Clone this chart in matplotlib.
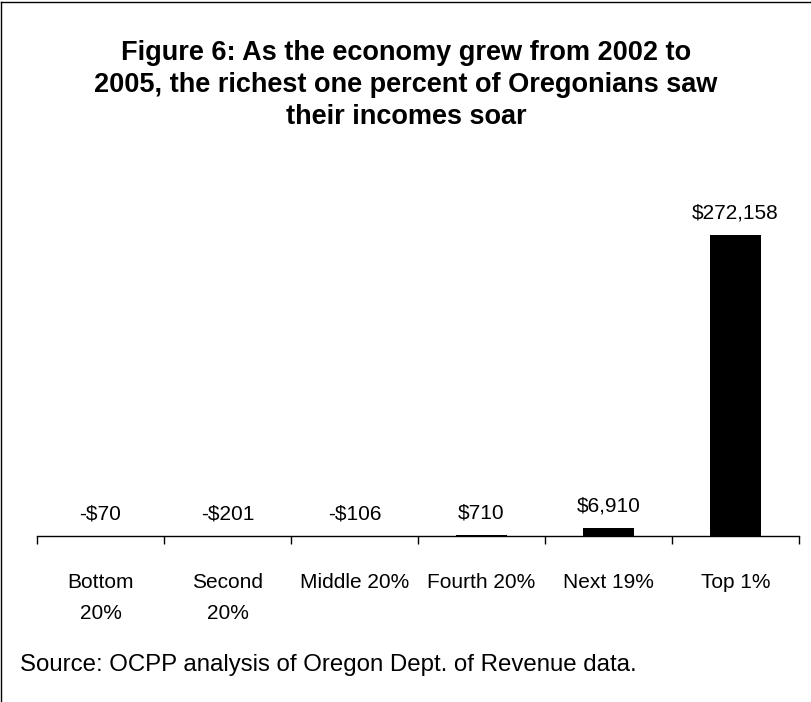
import matplotlib.pyplot as plt
from matplotlib.lines import Line2D

plt.rcParams['font.family'] = ['Liberation Sans', 'DejaVu Sans']

categories = ['Bottom\n20%', 'Second\n20%', 'Middle 20%', 'Fourth 20%', 'Next 19%', 'Top 1%']
changes = [-70, -201, -106, 710, 6910, 272158]
value_labels = ['-$70', '-$201', '-$106', '$710', '$6,910', '$272,158']

fig = plt.figure(figsize=(8.12, 7.02), dpi=100)
ax = fig.add_axes([0.0456, 0.2365, 0.9384, 0.4725])

x = range(len(categories))
ax.bar(x, changes, width=0.4, color='black')
ax.set_xlim(-0.5, 5.5)
ax.set_ylim(0, 300000)

for i, (v, lab) in enumerate(zip(changes, value_labels)):
    ax.annotate(lab, xy=(i, max(v, 0)), xytext=(0, 9), textcoords='offset points',
                ha='center', va='bottom', fontsize=15)

for s in ['left', 'right', 'top']:
    ax.spines[s].set_visible(False)
ax.spines['bottom'].set_linewidth(1)
ax.set_yticks([])
ax.set_xticks(list(x))
ax.set_xticklabels(categories, fontsize=15, linespacing=1.77)
ax.tick_params(axis='x', which='major', length=0, pad=27)
ax.set_xticks([i - 0.5 for i in range(len(categories) + 1)], minor=True)
ax.tick_params(axis='x', which='minor', length=6, width=1, direction='out')

fig.text(0.5, 0.943, 'Figure 6: As the economy grew from 2002 to\n2005, the richest one percent of Oregonians saw\ntheir incomes soar',
         ha='center', va='top', fontsize=19.5, fontweight='bold', linespacing=1.3)
fig.text(0.025, 0.053, 'Source: OCPP analysis of Oregon Dept. of Revenue data.',
         ha='left', va='center', fontsize=17.3)

# frame edges (left and top only, picture is cropped)
fig.add_artist(Line2D([0.0015, 0.0015], [0, 0.997], transform=fig.transFigure, color='black', lw=1))
fig.add_artist(Line2D([0.0015, 1], [0.997, 0.997], transform=fig.transFigure, color='black', lw=1))

fig.savefig('out.png', dpi=100)
